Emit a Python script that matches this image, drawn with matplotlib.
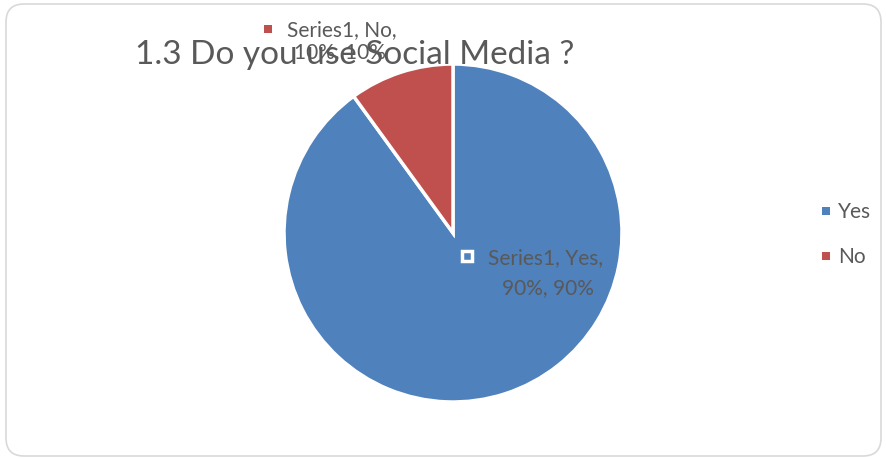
import matplotlib
matplotlib.use("Agg")
import matplotlib.pyplot as plt
from matplotlib.patches import FancyBboxPatch, Rectangle

labels = ["Yes", "No"]
values = [90, 10]
colors = ["#4f81bd", "#c0504d"]
series_name = "Series1"
title = "1.3 Do you use Social Media ?"

plt.rcParams['font.family'] = ['Lato', 'DejaVu Sans']
W, H = 887, 460
fig = plt.figure(figsize=(W/100, H/100), dpi=100)

# border
bg = fig.add_axes([0, 0, 1, 1], zorder=0)
bg.set_xlim(0, W); bg.set_ylim(H, 0); bg.axis('off')
bg.add_patch(FancyBboxPatch((6, 5), W-12, H-8, boxstyle="round,pad=0,rounding_size=18",
                            fc='white', ec='#d9d9d9', lw=1.2))

cx, cy, r = 453, 234, 169
ax = fig.add_axes([(cx - r)/W, 1 - (cy + r)/H, 2*r/W, 2*r/H], zorder=1)
ax.pie(values, colors=colors, startangle=90, counterclock=False,
       wedgeprops=dict(edgecolor='white', linewidth=2.5))
ax.set_xlim(-1, 1); ax.set_ylim(-1, 1)
ax.set_aspect('auto')

ov = fig.add_axes([0, 0, 1, 1], zorder=2)
ov.set_xlim(0, W); ov.set_ylim(H, 0); ov.axis('off')
ov.patch.set_alpha(0)

txtc = '#595959'
fs = 15
ov.text(355, 55, title, fontsize=24, color=txtc, ha='center', va='center')

# data labels
ov.add_patch(Rectangle((264, 26), 8, 8, fc=colors[1], ec='none'))
ov.text(287, 30, f"{series_name}, {labels[1]},", fontsize=fs, color=txtc, ha='left', va='center')
ov.text(340, 52, f"{values[1]}%, {values[1]}%", fontsize=fs, color=txtc, ha='center', va='center')

ov.add_patch(Rectangle((462, 252), 10, 10, fc=colors[0], ec='white', lw=2.5))
ov.text(546, 258, f"{series_name}, {labels[0]},", fontsize=fs, color=txtc, ha='center', va='center')
ov.text(548, 288, f"{values[0]}%, {values[0]}%", fontsize=fs, color=txtc, ha='center', va='center')

# legend
for i, (lab, c) in enumerate(zip(labels, colors)):
    y = 212 + i*45
    ov.add_patch(Rectangle((822, y-4), 8, 8, fc=c, ec='none'))
    ov.text(838, y, lab, fontsize=fs, color=txtc, ha='left', va='center')

fig.savefig("out.png", dpi=100)
